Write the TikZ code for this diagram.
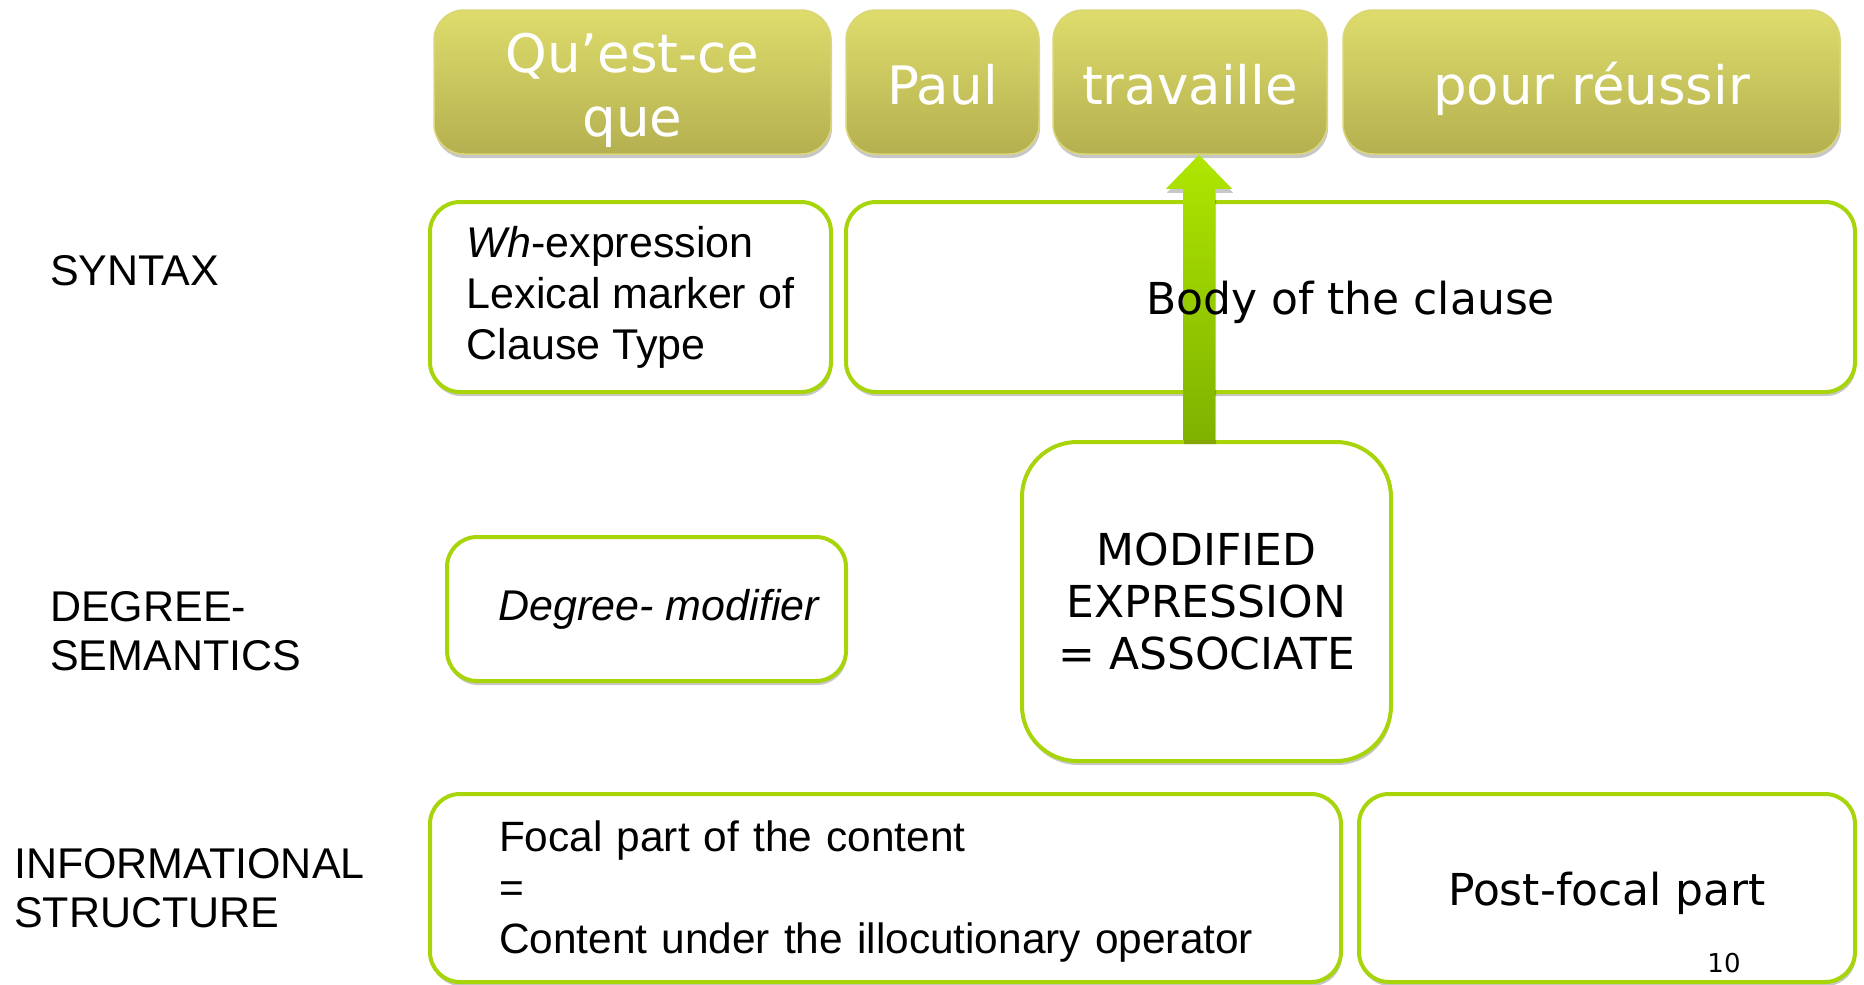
\documentclass[tikz,border=0pt]{standalone}
\usepackage{fontspec}
\setmainfont{Liberation Sans}
\newfontfamily\verd{DejaVu Sans}
\usetikzlibrary{shadows,calc}
\definecolor{gline}{RGB}{168,212,10}
\definecolor{toptop}{RGB}{222,220,108}
\definecolor{topbot}{RGB}{180,176,80}
\definecolor{topline}{RGB}{218,214,120}
\definecolor{arrtop}{RGB}{176,230,0}
\definecolor{arrbot}{RGB}{126,178,0}
\begin{document}
\begin{tikzpicture}[x=1pt,y=-1pt,
  softshadow/.style={drop shadow={shadow xshift=1pt, shadow yshift=-4pt, opacity=0.22, fill=black}},
  wordbox/.style={draw=topline, line width=1.5pt, rounded corners=30pt,
    top color=toptop, bottom color=topbot, minimum height=144pt,
    text=white, font=\verd\fontsize{53}{64}\selectfont, align=center,
    inner sep=0pt, softshadow},
  oneline/.style={text height=56pt, text depth=12pt},
  greenbox/.style={draw=gline, line width=4pt, rounded corners=30pt,
    fill=white, inner sep=0pt, softshadow},
  arial/.style={font=\fontsize{43}{51}\selectfont},
  verdtext/.style={font=\verd\fontsize{44}{52}\selectfont},
  verdline/.style={verdtext, text height=40pt, text depth=5pt},
  rowlabel/.style={anchor=west, align=left, inner sep=0pt,
    font=\fontsize{43}{49}\selectfont},
]
\useasboundingbox (0,0) rectangle (1864,985);

% top row of words
\node[wordbox, minimum width=397pt] (q) at (632.5,82)
  {\rule{0pt}{56pt}Qu’est-ce\\que};
\node[wordbox, oneline, minimum width=193pt] (paul) at (942.5,82) {Paul};
\node[wordbox, oneline, minimum width=274pt] (trav) at (1190,82) {travaille};
\node[wordbox, oneline, minimum width=497pt] (pour) at (1591.5,82) {pour réussir};

% row labels
\node[rowlabel] (syn) at (50,271) {SYNTAX};
\node[rowlabel] (degl) at (50,631) {DEGREE-\\SEMANTICS};
\node[rowlabel] (info) at (14,888) {INFORMATIONAL\\STRUCTURE};

% syntax row
\node[greenbox, arial, minimum width=401pt, minimum height=190pt,
  align=left] (wh) at (630.5,297)
  {\textit{Wh}-expression\\Lexical marker of\\Clause Type};
\node[greenbox, minimum width=1009pt, minimum height=190pt]
  (body) at (1350.5,297) {};

% degree semantics row
\node[greenbox, arial, minimum width=399pt, minimum height=144pt]
  (deg) at (646.5,609) {\hspace*{26pt}\textit{Degree- modifier}};
\node[greenbox, verdtext, rounded corners=55pt, minimum width=369pt,
  minimum height=319pt, align=center] (mod) at (1206.5,601.5)
  {MODIFIED\\EXPRESSION\\= ASSOCIATE};

% informational structure row
\node[greenbox, font=\fontsize{42.4}{51}\selectfont, minimum height=188pt,
  text width=773pt, inner xsep=69pt, align=left] (focal) at (885.5,888)
  {\rule{0pt}{38pt}Focal part of the content\\=\\Content under the illocutionary operator};
\node[greenbox, verdline, minimum width=496pt, minimum height=188pt]
  (post) at (1607,888) {Post-focal part};
\node[font=\verd\fontsize{26}{30}\selectfont, inner sep=0pt] (pagenum)
  at (1724,963) {10};

% arrow from the associate up to the verb
\coordinate (ax) at (1199,0);
\coordinate (abot) at (ax |- mod.north);
\coordinate (atip) at (ax |- trav.south);
\shade[top color=arrtop, bottom color=arrbot, softshadow]
  ($(abot)+(-16,0)$) -- ($(atip)+(-16,34)$) -- ($(atip)+(-33,34)$)
  -- (atip) -- ($(atip)+(33,34)$) -- ($(atip)+(16,34)$)
  -- ($(abot)+(16,0)$) -- cycle;

% text of the clause body, over the arrow
\node[verdline, inner sep=0pt] (bodytext) at (body.center) {Body of the clause};
\end{tikzpicture}
\end{document}
